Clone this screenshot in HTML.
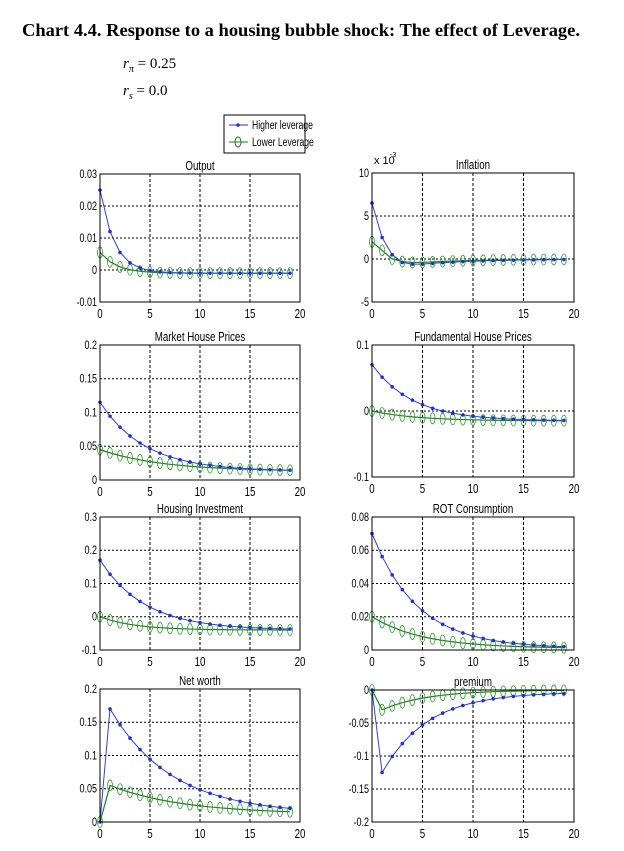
<!DOCTYPE html>
<html><head><meta charset="utf-8"><style>
body{margin:0;background:#fff;width:624px;height:846px;overflow:hidden}
svg text{font-family:"Liberation Sans",sans-serif}
</style></head><body>
<svg id="s" width="624" height="846" xmlns="http://www.w3.org/2000/svg">
<text x="22" y="36" font-weight="bold" font-size="18" style="font-family:'Liberation Serif',serif" textLength="558" lengthAdjust="spacingAndGlyphs">Chart 4.4.  Response to a housing bubble shock: The effect of Leverage.</text>
<text x="123" y="68" font-size="15" style="font-family:'Liberation Serif',serif;font-style:italic">r<tspan font-size="10" dy="4">π</tspan><tspan dy="-4" font-style="normal"> = 0.25</tspan></text>
<text x="123" y="95" font-size="15" style="font-family:'Liberation Serif',serif;font-style:italic">r<tspan font-size="10" dy="4">s</tspan><tspan dy="-4" font-style="normal"> = 0.0</tspan></text>
<rect x="224" y="115" width="81" height="38" fill="#fff" stroke="#000"/>
<line x1="229" y1="125" x2="248" y2="125" stroke="#2030d0"/><circle cx="238" cy="125" r="1.8" fill="#2030d0"/>
<text x="252" y="129" font-size="12" transform="translate(252 0) scale(0.72 1) translate(-252 0)">Higher leverage</text>
<line x1="229" y1="142" x2="248" y2="142" stroke="#208020"/><ellipse cx="238" cy="142" rx="3" ry="5" fill="none" stroke="#208020"/>
<text x="252" y="146" font-size="12" transform="translate(252 0) scale(0.72 1) translate(-252 0)">Lower Leverage</text>
<g id="g"></g>
</svg>
<script>
var g=document.getElementById('g'),h='';
function T(t,x,y,a,fs){fs=fs||11;h+='<text x="'+x+'" y="'+y+'" font-size="'+fs+'" text-anchor="'+(a||'start')+'" transform="translate('+x+' 0) scale(0.75 1) translate('+(-x)+' 0)">'+t+'</text>';}
function P(x0,x1,y0,y1,ymin,ymax,yt,ylab,title,H,L,extra){
 var sx=function(t){return x0+(x1-x0)*t/20},sy=function(v){return y1-(y1-y0)*(v-ymin)/(ymax-ymin)};
 h+='<rect x="'+x0+'" y="'+y0+'" width="'+(x1-x0)+'" height="'+(y1-y0)+'" fill="#fff"/>';
 [5,10,15].forEach(function(t){h+='<line x1="'+sx(t)+'" x2="'+sx(t)+'" y1="'+y0+'" y2="'+y1+'" stroke="#000" stroke-dasharray="3,2"/>';});
 yt.forEach(function(v,i){var y=sy(v);if(i>0&&i<yt.length-1)h+='<line x1="'+x0+'" x2="'+x1+'" y1="'+y+'" y2="'+y+'" stroke="#000" stroke-dasharray="2,2"/>';T(ylab[i],x0-3,y+4,'end',12);});
 [0,5,10,15,20].forEach(function(t){T(t,sx(t),y1+16,'middle',13);});
 T(title,(x0+x1)/2,y0-4,'middle',13);
 var ph='',pl='',mk='';
 for(var t=0;t<20;t++){ph+=(t?'L':'M')+sx(t)+','+sy(H(t));pl+=(t?'L':'M')+sx(t)+','+sy(L(t));
  mk+='<ellipse cx="'+sx(t)+'" cy="'+sy(L(t))+'" rx="2.5" ry="5.5" fill="none" stroke="#30a030" stroke-width="0.8"/>';
  mk+='<circle cx="'+sx(t)+'" cy="'+sy(H(t))+'" r="1.8" fill="#2030d0"/>';}
 h+='<path d="'+pl+'" fill="none" stroke="#208020" stroke-width="1.2"/>'+'<path d="'+ph+'" fill="none" stroke="#3040e0"/>'+mk;
 h+='<rect x="'+x0+'" y="'+y0+'" width="'+(x1-x0)+'" height="'+(y1-y0)+'" fill="none" stroke="#000"/>';
 if(extra)h+=extra;
}
var LX0=100,LX1=300,RX0=372,RX1=574;
P(LX0,LX1,174,302,-0.01,0.03,[0.03,0.02,0.01,0,-0.01],['0.03','0.02','0.01','0','-0.01'],'Output',
 function(t){return 0.026*Math.pow(0.5,t)-0.001},function(t){return 0.0065*Math.pow(0.55,t)-0.001});
P(RX0,RX1,173,302,-5,10,[10,5,0,-5],['10','5','0','-5'],'Inflation',
 function(t){var a=[6.5,2.5,0.5,-0.4,-0.6,-0.6,-0.5];return a[t]!==undefined?a[t]:-0.5*Math.pow(0.85,t-6)},
 function(t){var a=[2,1,0,-0.3,-0.4,-0.4];return a[t]!==undefined?a[t]:-0.4*Math.pow(0.85,t-5)},
 '<text x="374" y="164" font-size="11">x 10</text><text x="390" y="157" font-size="7">-3</text>');
P(LX0,LX1,345,480,0,0.2,[0.2,0.15,0.1,0.05,0],['0.2','0.15','0.1','0.05','0'],'Market House Prices',
 function(t){return 0.013+0.102*Math.pow(0.8,t)},function(t){return 0.013+0.032*Math.pow(0.85,t)});
P(RX0,RX1,345,477,-0.1,0.1,[0.1,0,-0.1],['0.1','0','-0.1'],'Fundamental House Prices',
 function(t){return -0.015+0.085*Math.pow(0.78,t)},function(t){return -0.015+0.015*Math.pow(0.8,t)});
P(LX0,LX1,517,650,-0.1,0.3,[0.3,0.2,0.1,0,-0.1],['0.3','0.2','0.1','0','-0.1'],'Housing Investment',
 function(t){return -0.04+0.21*Math.pow(0.8,t)},function(t){return -0.04+0.04*Math.pow(0.75,t)});
P(RX0,RX1,517,650,0,0.08,[0.08,0.06,0.04,0.02,0],['0.08','0.06','0.04','0.02','0'],'ROT Consumption',
 function(t){return 0.001+0.069*Math.pow(0.8,t)},function(t){return 0.001+0.019*Math.pow(0.82,t)});
P(LX0,LX1,689,822,0,0.2,[0.2,0.15,0.1,0.05,0],['0.2','0.15','0.1','0.05','0'],'Net worth',
 function(t){return t==0?0:0.012+0.158*Math.pow(0.85,t-1)},function(t){return t==0?0:0.012+0.043*Math.pow(0.87,t-1)});
P(RX0,RX1,690,822,-0.2,0,[0,-0.05,-0.1,-0.15,-0.2],['0','-0.05','-0.1','-0.15','-0.2'],'premium',
 function(t){return t==0?0:-0.003-0.122*Math.pow(0.8,t-1)},function(t){return t==0?0:-0.03*Math.pow(0.8,t-1)});
g.innerHTML=h;
</script>
</body></html>
